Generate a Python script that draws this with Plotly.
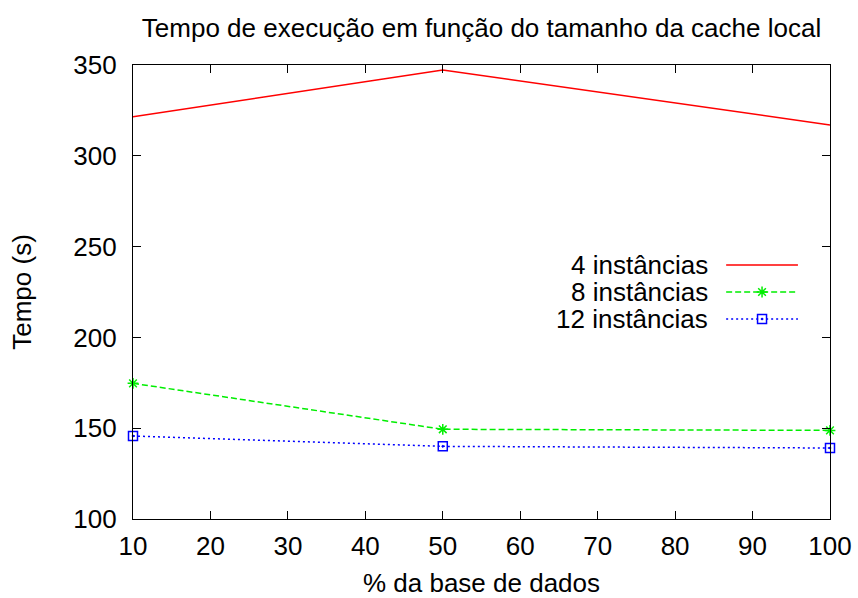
import plotly.graph_objects as go

# Percentage of the database held in the local cache
pct_base = [10, 50, 100]

# Execution time (s) per number of instances
tempo_4 = [321.5, 347.2, 317.0]
tempo_8 = [174.7, 149.4, 148.8]
tempo_12 = [145.7, 140.0, 139.1]

series_names = ["4 instâncias", "8 instâncias", "12 instâncias"]
y_ticks = [100, 150, 200, 250, 300, 350]
x_ticks = [10, 20, 30, 40, 50, 60, 70, 80, 90, 100]

FONT = "Liberation Sans, Arial, Helvetica, sans-serif"
FSIZE = 26

styles = [
    dict(color="#ff0000", dash="solid", symbol=None, msize=8),
    dict(color="#00ee00", dash="6px,3px", symbol="asterisk-open", msize=9),
    dict(color="#0000ff", dash="2px,3px", symbol="square-open-dot", msize=9),
]

fig = go.Figure()
for name, ys, st in zip(series_names, [tempo_4, tempo_8, tempo_12], styles):
    mode = "lines" if st["symbol"] is None else "lines+markers"
    fig.add_trace(go.Scatter(
        x=pct_base, y=ys, name=name, mode=mode,
        line=dict(color=st["color"], width=1.5, dash=st["dash"]),
        marker=dict(symbol=st["symbol"] or "circle", size=st["msize"],
                    color=st["color"], line=dict(color=st["color"], width=1.5)),
        showlegend=False, cliponaxis=False,
    ))

# Key in gnuplot style: label on the left, sample line on the right
key_y = [0.5595, 0.5, 0.4405]
for name, st, ky in zip(series_names, styles, key_y):
    mode = "lines" if st["symbol"] is None else "lines+markers"
    fig.add_trace(go.Scatter(
        x=[0.851, 0.9025, 0.954], y=[ky, ky, ky], mode=mode,
        xaxis="x2", yaxis="y2", showlegend=False, hoverinfo="skip",
        line=dict(color=st["color"], width=1.5, dash=st["dash"]),
        marker=dict(symbol=st["symbol"] or "circle", size=st["msize"],
                    color=st["color"], line=dict(color=st["color"], width=1.5),
                    opacity=[0, 1, 0]),
    ))
    fig.add_annotation(
        x=0.828, y=ky, xref="x2", yref="y2", text=name, showarrow=False,
        xanchor="right", yanchor="middle",
        font=dict(family=FONT, size=FSIZE, color="#000000"),
    )

axis_common = dict(
    showline=True, linecolor="#000000", linewidth=1.3, mirror="ticks",
    ticks="inside", ticklen=8, tickwidth=1, tickcolor="#000000",
    showgrid=False, zeroline=False, automargin=False,
    tickfont=dict(family=FONT, size=FSIZE, color="#000000"),
)

fig.update_layout(
    width=858, height=598,
    margin=dict(l=133, r=28, t=65, b=79),
    paper_bgcolor="#ffffff", plot_bgcolor="#ffffff",
    title=dict(text="Tempo de execução em função do tamanho da cache local",
               x=0.5, xanchor="center", xref="paper", y=0.953, yanchor="middle",
               font=dict(family=FONT, size=FSIZE, color="#000000")),
    xaxis=dict(range=[10, 100], tickvals=x_ticks, ticklabelstandoff=4,
               title=dict(text="% da base de dados", standoff=16,
                          font=dict(family=FONT, size=FSIZE, color="#000000")),
               **axis_common),
    yaxis=dict(range=[100, 350], tickvals=y_ticks, ticklabelstandoff=10,
               title=dict(text="Tempo (s)", standoff=34,
                          font=dict(family=FONT, size=FSIZE, color="#000000")),
               **axis_common),
    xaxis2=dict(range=[0, 1], overlaying="x", visible=False),
    yaxis2=dict(range=[0, 1], overlaying="y", visible=False),
    showlegend=False,
)

fig.write_html("out.html")
